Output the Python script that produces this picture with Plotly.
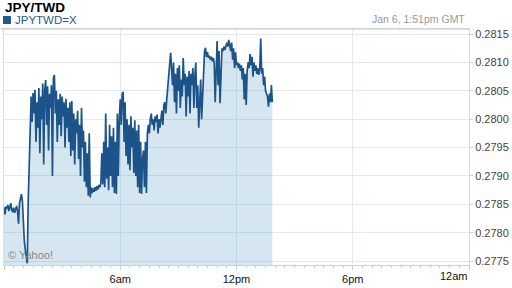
import pandas as pd
import plotly.graph_objects as go

# JPY/TWD quotes, one every 3 minutes from 00:00 GMT to 13:51 GMT, Jan 6
values = [
    0.27845, 0.27832, 0.27846, 0.27843, 0.27849, 0.27838, 0.27844, 0.27852, 0.27840, 0.27836,
    0.27844, 0.27835, 0.27841, 0.27847, 0.27838,
    0.27816, 0.27852, 0.27861, 0.27868, 0.27855, 0.27812, 0.27785, 0.27770, 0.27752, 0.27746,
    0.27855, 0.27919,
    0.28022, 0.28040, 0.27995, 0.28046, 0.28010, 0.28052, 0.27960, 0.28030, 0.27985, 0.28055,
    0.27940, 0.28040, 0.28000, 0.28063, 0.27920, 0.28050, 0.28069, 0.27990, 0.28058, 0.27945,
    0.28045, 0.28020, 0.28060, 0.27900, 0.28072, 0.28078, 0.28010, 0.28050, 0.27960, 0.28035,
    0.27990, 0.28045, 0.27970, 0.28040, 0.28005, 0.28030, 0.27950, 0.28036, 0.27985, 0.28020,
    0.27960, 0.28030, 0.27935, 0.28032, 0.27945, 0.28010, 0.27920, 0.28000, 0.27975, 0.28015,
    0.27930, 0.27990, 0.27900, 0.28020, 0.27950, 0.27980, 0.27890, 0.27960, 0.27880, 0.27940,
    0.27865, 0.27975, 0.27862, 0.27880, 0.27870, 0.27878, 0.27872, 0.27880, 0.27874, 0.27882,
    0.27876, 0.27884, 0.27880, 0.27888, 0.27940, 0.27885, 0.27960, 0.27880, 0.28010, 0.27895,
    0.27950, 0.27875, 0.27990, 0.27900, 0.27970, 0.27880, 0.27985, 0.27870, 0.27960, 0.27868,
    0.28010, 0.27900, 0.28000, 0.28035, 0.27990, 0.28045, 0.28048, 0.27960, 0.28030, 0.27935,
    0.28000, 0.27920, 0.27990, 0.27910, 0.28005, 0.27950, 0.27985, 0.27905, 0.27998, 0.27900,
    0.27980, 0.27880, 0.27990, 0.27870, 0.27960, 0.27868, 0.27930, 0.27945, 0.27880, 0.27960,
    0.27870, 0.27975, 0.27990, 0.27975, 0.28000, 0.28010, 0.27990, 0.28000, 0.27980, 0.28005,
    0.27995, 0.28008, 0.27975, 0.28000, 0.27985, 0.28005, 0.28015, 0.27990, 0.28025, 0.28030,
    0.28010, 0.28035, 0.28060, 0.28080, 0.28100, 0.28117, 0.28090, 0.28060, 0.28100, 0.28030,
    0.28080, 0.28010, 0.28090, 0.28050, 0.28095, 0.28020, 0.28070, 0.28040, 0.28108, 0.28060,
    0.28080, 0.28005, 0.28075, 0.28040, 0.28085, 0.28010, 0.28080, 0.28060, 0.28090, 0.28020,
    0.28075, 0.28100, 0.28020, 0.28060, 0.27985, 0.28040, 0.28070, 0.28000, 0.28050, 0.28105,
    0.28120, 0.28126, 0.28110, 0.28118, 0.28108, 0.28112, 0.28105, 0.28110, 0.28102, 0.28108,
    0.28100, 0.28030, 0.28105, 0.28138, 0.28060, 0.28120, 0.28028, 0.28090, 0.28125, 0.28120,
    0.28128, 0.28122, 0.28130, 0.28135, 0.28128, 0.28140, 0.28130, 0.28120, 0.28135, 0.28105,
    0.28125, 0.28090, 0.28118, 0.28095, 0.28100, 0.28090, 0.28098, 0.28085, 0.28095, 0.28070,
    0.28090, 0.28035, 0.28080, 0.28025, 0.28085, 0.28100, 0.28090, 0.28115, 0.28095, 0.28110,
    0.28075, 0.28100, 0.28085, 0.28095, 0.28080, 0.28090, 0.28078, 0.28088, 0.28142, 0.28080,
    0.28090, 0.28060, 0.28075, 0.28050, 0.28045, 0.28040, 0.28022, 0.28045, 0.28030, 0.28060,
    0.28030,
]
times = pd.date_range("2015-01-06 00:00", periods=len(values), freq="3min")

y_ticks = [0.2775, 0.2780, 0.2785, 0.2790, 0.2795, 0.2800, 0.2805, 0.2810, 0.2815]
x_tickvals = ["2015-01-06 00:00", "2015-01-06 06:00", "2015-01-06 12:00",
              "2015-01-06 18:00", "2015-01-07 00:00"]
x_ticktext = ["", "6am", "12pm", "6pm", ""]

FONT = "Arial, Liberation Sans, sans-serif"
LINE = "#1c5489"
GRID = "#e3e9ef"

fig = go.Figure()
fig.add_trace(go.Scatter(
    x=times, y=values, mode="lines",
    line=dict(color=LINE, width=1.7),
    fill="tozeroy", fillcolor="rgba(50,130,180,0.2)",
    hoverinfo="skip", showlegend=False,
))

fig.update_layout(
    width=512, height=288,
    margin=dict(l=3, r=41, t=29, b=23),
    paper_bgcolor="white", plot_bgcolor="white",
    font=dict(family=FONT, size=11, color="#333"),
    xaxis=dict(
        type="date",
        range=["2015-01-06 00:00", "2015-01-07 00:00"],
        tickmode="array", tickvals=x_tickvals, ticktext=x_ticktext,
        ticks="outside", ticklen=4, tickcolor="#ccc",
        tickfont=dict(size=11, color="#111"),
        showgrid=True, gridcolor=GRID, gridwidth=1,
        showline=True, linecolor="#d0d0d0", linewidth=1, mirror=True,
        zeroline=False,
        minor=dict(tickmode="linear", tick0="2015-01-06 00:00", dtick=1800000,
                   ticks="outside", ticklen=2, tickcolor="#ccc", showgrid=False),
    ),
    yaxis=dict(
        side="right",
        range=[0.27743, 0.28159],
        tickmode="array", tickvals=y_ticks,
        ticktext=[f"{v:.4f}" for v in y_ticks],
        ticks="outside", ticklen=3, tickcolor="#ccc",
        tickfont=dict(size=11, color="#444"),
        showgrid=True, gridcolor=GRID, gridwidth=1,
        showline=True, linecolor="#dcdcdc", linewidth=1, mirror=True,
        zeroline=False,
    ),
    shapes=[
        dict(type="rect", xref="paper", yref="paper",
             x0=-1/468, x1=7/468, y0=(265-24)/236, y1=(265-16)/236,
             fillcolor="#1f5a94", line=dict(width=0)),
        dict(type="line", xref="paper", yref="paper",
             x0=-3/468, x1=1, y0=1, y1=1,
             line=dict(color="#d6d6d6", width=1.5)),
    ],
    annotations=[
        dict(text="<b>JPY/TWD</b>", xref="paper", yref="paper",
             x=-1.5/468, y=(265-7)/236, xanchor="left", yanchor="middle",
             showarrow=False, font=dict(family=FONT, size=13.5, color="#000")),
        dict(text="JPYTWD=X", xref="paper", yref="paper",
             x=(12-3)/468, y=(265-20.5)/236, xanchor="left", yanchor="middle",
             showarrow=False, font=dict(family=FONT, size=11.5, color="#1f5a94")),
        dict(text="Jan 6, 1:51pm GMT", xref="paper", yref="paper",
             x=(469-3)/468, y=(265-18.5)/236, xanchor="right", yanchor="middle",
             showarrow=False, font=dict(family=FONT, size=10.5, color="#999")),
        dict(text="© Yahoo!", xref="paper", yref="paper",
             x=(5-3)/468, y=(265-255)/236, xanchor="left", yanchor="middle",
             showarrow=False, font=dict(family=FONT, size=11, color="#888")),
        dict(text="12am", xref="paper", yref="paper",
             x=1 + 1/468, y=(265-275.5)/236, xanchor="right", yanchor="middle",
             showarrow=False, font=dict(family=FONT, size=11, color="#111")),
    ],
)

fig.write_html("out.html")
